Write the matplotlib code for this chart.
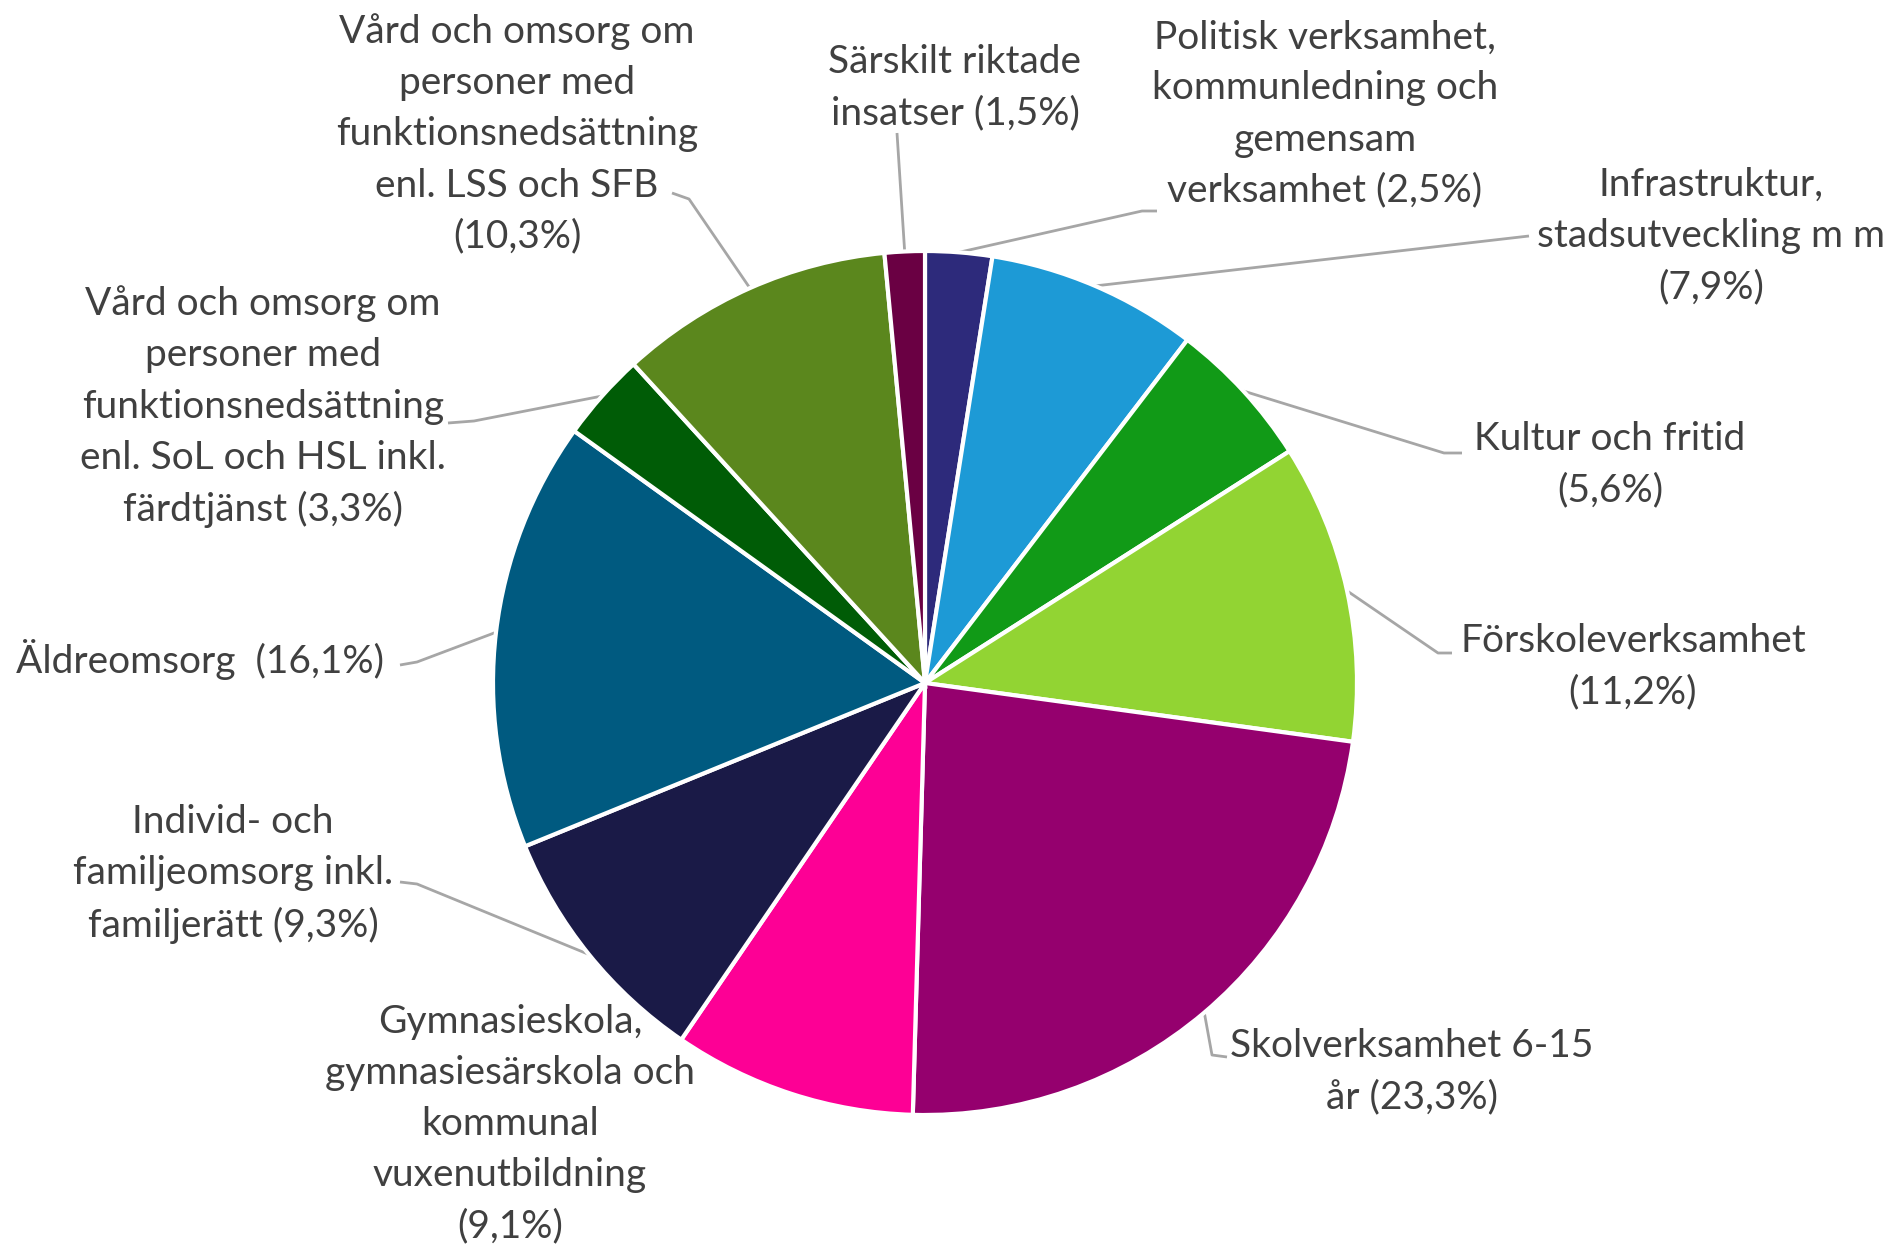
import numpy as np
import matplotlib
matplotlib.use("Agg")
import matplotlib.pyplot as plt

# ---- data ----
labels = [
    "Politisk verksamhet,\nkommunledning och\ngemensam\nverksamhet (2,5%)",
    "Infrastruktur,\nstadsutveckling m m\n(7,9%)",
    "Kultur och fritid\n(5,6%)",
    "Förskoleverksamhet\n(11,2%)",
    "Skolverksamhet 6-15\når (23,3%)",
    "Gymnasieskola,\ngymnasiesärskola och\nkommunal\nvuxenutbildning\n(9,1%)",
    "Individ- och\nfamiljeomsorg inkl.\nfamiljerätt (9,3%)",
    "Äldreomsorg  (16,1%)",
    "Vård och omsorg om\npersoner med\nfunktionsnedsättning\nenl. SoL och HSL inkl.\nfärdtjänst (3,3%)",
    "Vård och omsorg om\npersoner med\nfunktionsnedsättning\nenl. LSS och SFB\n(10,3%)",
    "Särskilt riktade\ninsatser (1,5%)",
]
values = [2.5, 7.9, 5.6, 11.2, 23.3, 9.1, 9.3, 16.1, 3.3, 10.3, 1.5]
colors = ["#2d2a7b", "#1d9ad6", "#119a17", "#92d433", "#95006e", "#fd0095",
          "#1a1a47", "#005a80", "#005c06", "#5b871d", "#6a0043"]

# ---- layout (pixel coords, y downward) ----
W, H = 1895, 1244
CX, CY, R = 925, 683, 432
# text position, ha, leader elbow, leader end
layout = [
    ((1325, 114), "center", (1142, 211), (1157, 211)),
    ((1711, 236), "center", (1529, 236), (1529, 236)),
    ((1610, 465), "center", (1444, 453), (1462, 453)),
    ((1633, 667), "center", (1438, 653), (1452, 653)),
    ((1412, 1072), "center", (1212, 1055), (1227, 1057)),
    ((510, 1124), "center", (672, 1032), (672, 1032)),
    ((233, 874), "center", (417, 884), (400, 882)),
    ((384, 659), "right", (417, 662), (400, 665)),
    ((263, 407), "center", (474, 421), (448, 423)),
    ((517, 134), "center", (689, 199), (672, 193)),
    ((955, 88), "center", (897, 133), (897, 133)),
]

plt.rcParams['font.family'] = ['Lato', 'DejaVu Sans']
fig = plt.figure(figsize=(W / 100, H / 100), dpi=100)
ax = fig.add_axes([0, 0, 1, 1])
ax.set_xlim(0, W)
ax.set_ylim(0, H)
ax.set_aspect('equal')
ax.axis('off')

wedges, _ = ax.pie(values, colors=colors, startangle=90, counterclock=False,
                   center=(CX, H - CY), radius=R,
                   wedgeprops=dict(edgecolor="white", linewidth=3))
ax.set_xlim(0, W)
ax.set_ylim(0, H)

for w, lab, (tp, ha, elbow, end) in zip(wedges, labels, layout):
    mid = np.deg2rad((w.theta1 + w.theta2) / 2)
    ax_x = CX + R * np.cos(mid)
    ax_y = (H - CY) + R * np.sin(mid)
    xs = [ax_x, elbow[0], end[0]]
    ys = [ax_y, H - elbow[1], H - end[1]]
    ax.plot(xs, ys, color="#a6a6a6", lw=2, solid_capstyle="butt", zorder=0.5)
    ax.text(tp[0], H - tp[1], lab, ha=ha, va="center", fontsize=28,
            color="#404040", linespacing=1.52, multialignment="center")

fig.savefig("out.png", dpi=100)
